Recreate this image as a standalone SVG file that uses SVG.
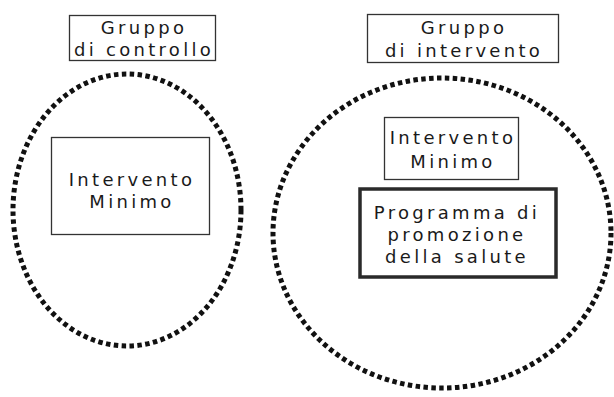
<svg xmlns="http://www.w3.org/2000/svg" width="614" height="397" viewBox="0 0 614 397">
<style>
text{font-family:"DejaVu Sans",Verdana,sans-serif;font-size:18px;fill:#1a1a1a;text-anchor:middle;letter-spacing:3.3px}
.box{fill:none;stroke:#333;stroke-width:1.3}
.thick{fill:none;stroke:#2a2a2a;stroke-width:3.5}
.dots{fill:none;stroke:#111;stroke-width:5;stroke-dasharray:4.5 3.4}
</style>
<rect width="614" height="397" fill="#fff"/>
<g id="label-controllo">
<rect class="box" x="69.5" y="15.5" width="146" height="45"/>
<text x="144" y="34">Gruppo</text>
<text x="144" y="56">di controllo</text>
</g>
<g id="label-intervento">
<rect class="box" x="367.5" y="14.5" width="191" height="48"/>
<text x="464" y="34">Gruppo</text>
<text x="464" y="57">di intervento</text>
</g>
<g id="gruppo-controllo">
<ellipse class="dots" cx="127" cy="210" rx="114" ry="136"/>
</g>
<g id="gruppo-intervento">
<ellipse class="dots" cx="442" cy="233" rx="169" ry="155"/>
</g>
<g id="intervento-minimo-1">
<rect class="box" x="51.5" y="137.5" width="158" height="97"/>
<text x="132" y="186">Intervento</text>
<text x="132" y="208">Minimo</text>
</g>
<g id="intervento-minimo-2">
<rect class="box" x="384.5" y="117.5" width="134" height="62"/>
<text x="453" y="144">Intervento</text>
<text x="453" y="168">Minimo</text>
</g>
<g id="programma">
<rect class="thick" x="360" y="189" width="196" height="88"/>
<text x="457" y="219">Programma di</text>
<text x="457" y="241">promozione</text>
<text x="457" y="263">della salute</text>
</g>
<g id="connectors"></g>
</svg>
